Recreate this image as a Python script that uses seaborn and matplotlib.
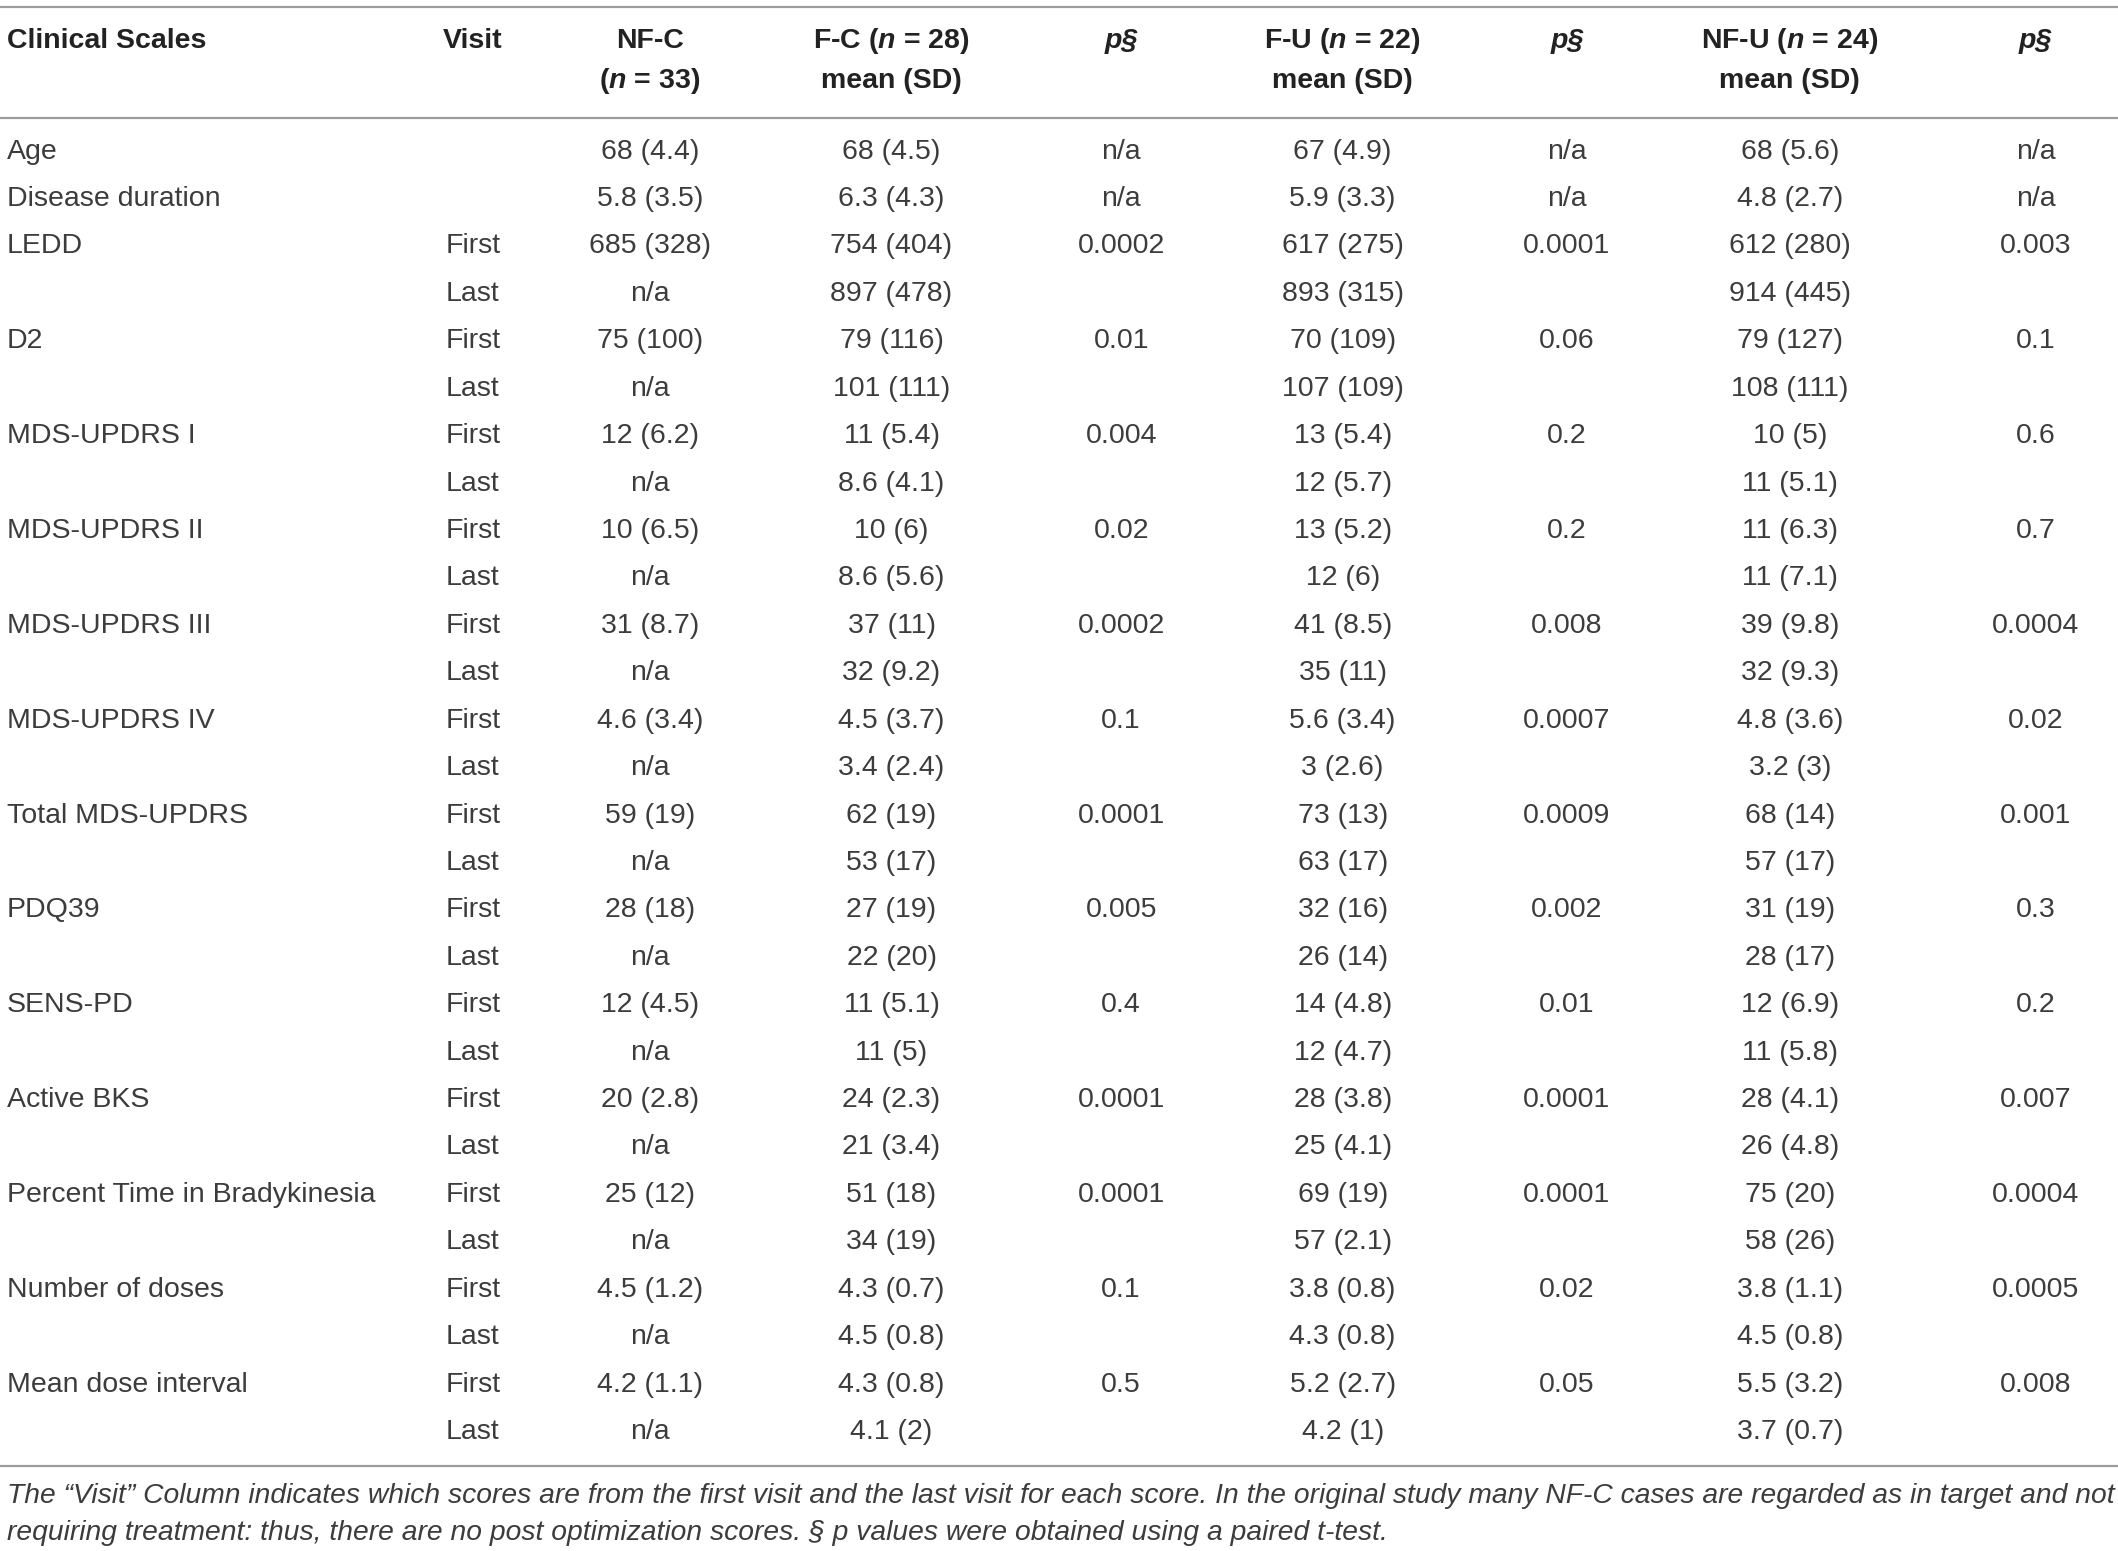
import numpy as np
import pandas as pd
import matplotlib
matplotlib.use("Agg")
import matplotlib.pyplot as plt
import seaborn as sns

# table content
scales = ["Age", "Disease duration", "LEDD", "D2", "MDS-UPDRS I", "MDS-UPDRS II",
          "MDS-UPDRS III", "MDS-UPDRS IV", "Total MDS-UPDRS", "PDQ39", "SENS-PD",
          "Active BKS", "Percent Time in Bradykinesia", "Number of doses", "Mean dose interval"]
has_visits = [False, False] + [True] * 13

nfc_first = ["68 (4.4)", "5.8 (3.5)", "685 (328)", "75 (100)", "12 (6.2)", "10 (6.5)", "31 (8.7)",
             "4.6 (3.4)", "59 (19)", "28 (18)", "12 (4.5)", "20 (2.8)", "25 (12)", "4.5 (1.2)", "4.2 (1.1)"]
fc_first = ["68 (4.5)", "6.3 (4.3)", "754 (404)", "79 (116)", "11 (5.4)", "10 (6)", "37 (11)",
            "4.5 (3.7)", "62 (19)", "27 (19)", "11 (5.1)", "24 (2.3)", "51 (18)", "4.3 (0.7)", "4.3 (0.8)"]
fc_last = [None, None, "897 (478)", "101 (111)", "8.6 (4.1)", "8.6 (5.6)", "32 (9.2)", "3.4 (2.4)",
           "53 (17)", "22 (20)", "11 (5)", "21 (3.4)", "34 (19)", "4.5 (0.8)", "4.1 (2)"]
p_fc = ["n/a", "n/a", "0.0002", "0.01", "0.004", "0.02", "0.0002", "0.1", "0.0001", "0.005",
        "0.4", "0.0001", "0.0001", "0.1", "0.5"]
fu_first = ["67 (4.9)", "5.9 (3.3)", "617 (275)", "70 (109)", "13 (5.4)", "13 (5.2)", "41 (8.5)",
            "5.6 (3.4)", "73 (13)", "32 (16)", "14 (4.8)", "28 (3.8)", "69 (19)", "3.8 (0.8)", "5.2 (2.7)"]
fu_last = [None, None, "893 (315)", "107 (109)", "12 (5.7)", "12 (6)", "35 (11)", "3 (2.6)",
           "63 (17)", "26 (14)", "12 (4.7)", "25 (4.1)", "57 (2.1)", "4.3 (0.8)", "4.2 (1)"]
p_fu = ["n/a", "n/a", "0.0001", "0.06", "0.2", "0.2", "0.008", "0.0007", "0.0009", "0.002",
        "0.01", "0.0001", "0.0001", "0.02", "0.05"]
nfu_first = ["68 (5.6)", "4.8 (2.7)", "612 (280)", "79 (127)", "10 (5)", "11 (6.3)", "39 (9.8)",
             "4.8 (3.6)", "68 (14)", "31 (19)", "12 (6.9)", "28 (4.1)", "75 (20)", "3.8 (1.1)", "5.5 (3.2)"]
nfu_last = [None, None, "914 (445)", "108 (111)", "11 (5.1)", "11 (7.1)", "32 (9.3)", "3.2 (3)",
            "57 (17)", "28 (17)", "11 (5.8)", "26 (4.8)", "58 (26)", "4.5 (0.8)", "3.7 (0.7)"]
p_nfu = ["n/a", "n/a", "0.003", "0.1", "0.6", "0.7", "0.0004", "0.02", "0.001", "0.3",
         "0.2", "0.007", "0.0004", "0.0005", "0.008"]

footnote = [
    "The \u201cVisit\u201d Column indicates which scores are from the first visit and the last visit for each score. "
    "In the original study many NF-C cases are regarded as in target and not",
    "requiring treatment: thus, there are no post optimization scores. \u00a7 p values were obtained using a paired t-test.",
]

# build long table: one row per printed line
records = []
for i, s in enumerate(scales):
    if has_visits[i]:
        records.append([s, "First", nfc_first[i], fc_first[i], p_fc[i], fu_first[i], p_fu[i], nfu_first[i], p_nfu[i]])
        records.append(["", "Last", "n/a", fc_last[i], "", fu_last[i], "", nfu_last[i], ""])
    else:
        records.append([s, "", nfc_first[i], fc_first[i], p_fc[i], fu_first[i], p_fu[i], nfu_first[i], p_nfu[i]])
table = pd.DataFrame(records, columns=["scale", "visit", "nfc", "fc", "p1", "fu", "p2", "nfu", "p3"])

# layout (in a 1568 x 1146 frame)
W, H = 1568, 1146
col_x = {"scale": 5, "visit": 330, "nfc": 481, "fc": 660, "p1": 830, "fu": 994, "p2": 1160, "nfu": 1325, "p3": 1507}
col_ha = {"scale": "left", "visit": "left"}
row_y0, row_step = 112, 35.04
head_y = (30, 60)
line_ys = (5, 87, 1083)
foot_ys = (1105, 1133)

sns.set_theme(style="white")
plt.rcParams["font.family"] = ["Liberation Sans", "DejaVu Sans"]
plt.rcParams["mathtext.fontset"] = "custom"
plt.rcParams["mathtext.it"] = "Liberation Sans:italic:bold"
plt.rcParams["mathtext.rm"] = "Liberation Sans:bold"

txt = "#3c3c3c"
fs = 20.5

fig = plt.figure(figsize=(21.18, 15.51), dpi=100)
ax = fig.add_axes([0, 0, 1, 1])
ax.set_xlim(0, W)
ax.set_ylim(H, 0)
ax.axis("off")

for y in line_ys:
    ax.axhline(y, color="#9c9c9c", lw=1.6)

# header
hdr = dict(fontsize=fs, fontweight="bold", color="#222222", va="center")
ax.text(col_x["scale"], head_y[0], "Clinical Scales", ha="left", **hdr)
ax.text(col_x["visit"] - 2, head_y[0], "Visit", ha="left", **hdr)
ax.text(col_x["nfc"], head_y[0], "NF-C", ha="center", **hdr)
ax.text(col_x["nfc"], head_y[1], r"($\mathit{n}$ = 33)", ha="center", **hdr)
for key, name, n in [("fc", "F-C", 28), ("fu", "F-U", 22), ("nfu", "NF-U", 24)]:
    ax.text(col_x[key], head_y[0], name + r" ($\mathit{n}$ = " + str(n) + ")", ha="center", **hdr)
    ax.text(col_x[key], head_y[1], "mean (SD)", ha="center", **hdr)
for key in ["p1", "p2", "p3"]:
    ax.text(col_x[key], head_y[0], "p\u00a7", ha="center", fontstyle="italic", **hdr)

# body
for r, row in table.iterrows():
    y = row_y0 + r * row_step
    for col in table.columns:
        val = row[col]
        if val:
            ax.text(col_x[col], y, val, ha=col_ha.get(col, "center"), va="center",
                    fontsize=fs, color=txt)

# footnote, stretched to the full width like the original
renderer = fig.canvas.get_renderer()
foot = [ax.text(5, y, line, ha="left", va="center", fontsize=fs, fontstyle="italic", color=txt)
        for line, y in zip(footnote, foot_ys)]
foot_fs = fs * (2108 / foot[0].get_window_extent(renderer).width)
for t in foot:
    t.set_fontsize(foot_fs)

fig.savefig("out.png", dpi=100)
